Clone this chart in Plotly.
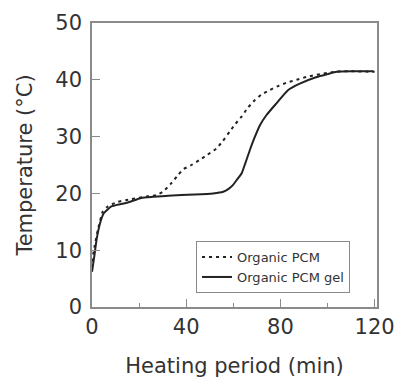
import plotly.graph_objects as go

# Organic PCM (dashed)
pcm_t = [0, 1, 2.5, 4.6, 6.7, 11, 16.7, 23.7, 27.3, 30.1, 33.7, 36.5, 38.6, 42.2, 45.7,
         49, 52.8, 55.5, 58.5, 61, 63.5, 66, 69.1, 72, 75.5, 79, 82.6, 86.9, 91, 96.8,
         100, 105.3, 110, 120]
pcm_T = [8.0, 10.5, 13.6, 16.8, 17.7, 18.5, 19.0, 19.5, 19.7, 20.3, 21.8, 23.2, 24.2, 25.0, 25.9,
         26.8, 27.9, 29.2, 30.9, 32.3, 33.5, 35.0, 36.4, 37.4, 38.2, 38.9, 39.5, 40.0, 40.5, 41.0,
         41.2, 41.5, 41.5, 41.4]

# Organic PCM gel (solid)
gel_t = [0, 1, 2, 3.6, 5, 8.2, 12, 15.2, 20.9, 26, 32.3, 43.6, 51.4, 55.7, 58, 59.9, 61.5,
         63.5, 65, 67, 69, 71.3, 74.1, 78.4, 83.3, 88, 95.4, 100, 103.9, 110, 119.5]
gel_T = [6.2, 9, 12, 15.0, 16.5, 17.7, 18.1, 18.4, 19.2, 19.4, 19.6, 19.8, 20.0, 20.3, 20.8, 21.5, 22.4,
         23.5, 25.2, 27.6, 29.8, 32.0, 33.8, 35.9, 38.2, 39.3, 40.5, 41.0, 41.4, 41.5, 41.5]

x_ticks = [0, 40, 80, 120]
y_ticks = [0, 10, 20, 30, 40, 50]

FONT = "DejaVu Sans"
AX = "#8a8a8a"

fig = go.Figure()
fig.add_trace(go.Scatter(x=pcm_t, y=pcm_T, mode="lines", name="Organic PCM",
                         line=dict(color="#222222", width=2, dash="3px,4px", shape="spline", smoothing=0.5)))
fig.add_trace(go.Scatter(x=gel_t, y=gel_T, mode="lines", name="Organic PCM gel",
                         line=dict(color="#222222", width=2, shape="spline", smoothing=0.5)))

fig.update_layout(
    width=397, height=378,
    margin=dict(l=92, r=20, t=23, b=71, autoexpand=False),
    paper_bgcolor="white", plot_bgcolor="white",
    font=dict(family=FONT, color="#333333"),
    showlegend=True,
    legend=dict(x=0.365, y=0.232, xanchor="left", yanchor="top",
                bordercolor=AX, borderwidth=1, bgcolor="white",
                font=dict(size=13, family=FONT, color="#333333"),
                tracegroupgap=0, itemwidth=30),
)
fig.update_xaxes(
    range=[0, 121], tickvals=x_ticks, ticktext=[str(v) for v in x_ticks],
    automargin=False,
    showline=True, linecolor=AX, linewidth=1.5, mirror=True,
    ticks="inside", ticklen=8, tickcolor=AX, tickwidth=1.2,
    minor=dict(ticks="inside", ticklen=4, tickcolor=AX, dtick=20, tick0=0, showgrid=False),
    showgrid=False, zeroline=False,
    tickfont=dict(size=21, family=FONT, color="#333333"),
    ticklabelstandoff=0,
    title=dict(text="Heating period (min)", font=dict(size=21, family=FONT, color="#333333"), standoff=24),
)
fig.update_yaxes(
    range=[0, 50], tickvals=y_ticks, ticktext=[str(v) for v in y_ticks],
    automargin=False,
    showline=True, linecolor=AX, linewidth=1.5, mirror=True,
    ticks="inside", ticklen=8, tickcolor=AX, tickwidth=1.2,
    showgrid=False, zeroline=False,
    tickfont=dict(size=21, family=FONT, color="#333333"),
    ticklabelstandoff=4,
    title=dict(text="Temperature (°C)", font=dict(size=21, family=FONT, color="#333333"), standoff=17),
)

fig.write_html("out.html")
